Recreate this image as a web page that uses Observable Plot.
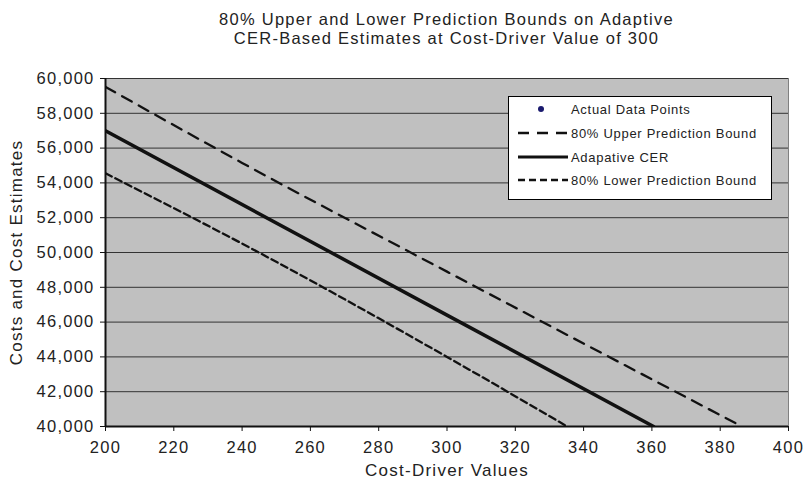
<!DOCTYPE html>
<html>
<head>
<meta charset="utf-8">
<script src="https://cdn.jsdelivr.net/npm/d3@7"></script>
<script src="https://cdn.jsdelivr.net/npm/@observablehq/plot@0.6"></script>
<style>
  body { margin: 0; background: #fff; font-family: "Liberation Sans", Arial, sans-serif; }
  #wrap { position: relative; width: 805px; height: 482px; }
  #title { position: absolute; left: 0; top: 10px; width: 893px; text-align: center; font-size: 16.5px; line-height: 18.5px; letter-spacing: 1.25px; color: #222; }
  #chart { position: absolute; left: 0; top: 60px; }
  #legend { position: absolute; left: 508px; top: 96px; width: 262px; height: 102px; background: #fff; border: 1px solid #000; font-size: 13px; letter-spacing: 0.7px; color: #222; }
  .row { position: absolute; left: 8px; height: 20px; display: flex; align-items: center; }
  .row svg { margin-right: 2px; }
</style>
</head>
<body>
<div id="wrap">
  <div id="title">80% Upper and Lower Prediction Bounds on Adaptive<br>CER-Based Estimates at Cost-Driver Value of 300</div>
  <div id="chart"></div>
  <div id="legend"></div>
</div>
<script>
// Data
const cerX = [200, 300, 360.5];
const cerY = [57000, 46400, 40000];
const upperX = [200, 240, 300, 386.4];
const upperY = [59520, 55150, 48900, 40000];
const lowerX = [200, 244.9, 300, 335.2];
const lowerY = [54550, 50000, 44000, 40000];
const actualX = [];
const actualY = [];
const xTicks = [200, 220, 240, 260, 280, 300, 320, 340, 360, 380, 400];
const yTicks = [40000, 42000, 44000, 46000, 48000, 50000, 52000, 54000, 56000, 58000, 60000];

const legendItems = [
  {label: "Actual Data Points", type: "dot"},
  {label: "80% Upper Prediction Bound", type: "line", dash: "11,8", width: 2.3},
  {label: "Adapative CER", type: "line", dash: null, width: 3},
  {label: "80% Lower Prediction Bound", type: "line", dash: "7,4", width: 2.3}
];

const toRows = (xs, ys) => xs.map((x, i) => ({x, y: ys[i]}));
const cer = toRows(cerX, cerY);
const upper = toRows(upperX, upperY);
const lower = toRows(lowerX, lowerY);
const actual = toRows(actualX, actualY);

const chart = Plot.plot({
  width: 805,
  height: 422,
  marginLeft: 105,
  marginRight: 17,
  marginTop: 18,
  marginBottom: 56,
  style: {fontFamily: "'Liberation Sans', Arial, sans-serif", color: "#222", background: "#fff", letterSpacing: "1.25px"},
  x: {domain: [200, 400]},
  y: {domain: [40000, 60000]},
  marks: [
    Plot.frame({fill: "#c0c0c0", stroke: "#808080", strokeWidth: 1}),
    Plot.gridY(yTicks, {stroke: "#333", strokeOpacity: 1, strokeWidth: 1}),
    Plot.line(upper, {x: "x", y: "y", curve: "monotone-x", stroke: "#111", strokeWidth: 2.3, strokeDasharray: "11,8", clip: true}),
    Plot.line(lower, {x: "x", y: "y", curve: "monotone-x", stroke: "#111", strokeWidth: 2.3, strokeDasharray: "7,4", clip: true}),
    Plot.line(cer, {x: "x", y: "y", stroke: "#111", strokeWidth: 3.5, clip: true}),
    Plot.dot(actual, {x: "x", y: "y", r: 3, fill: "#1a1a6e", stroke: null}),
    Plot.ruleX([200], {stroke: "#111", strokeWidth: 2}),
    Plot.ruleY([40000], {stroke: "#111", strokeWidth: 2}),
    Plot.axisY(yTicks, {tickFormat: d3.format(","), tickSize: 5, tickPadding: 6, fontSize: 16.5, label: null, stroke: "#111"}),
    Plot.axisX(xTicks, {tickSize: 5, tickPadding: 10, fontSize: 16.5, label: null, stroke: "#111"}),
    Plot.text(["Costs and Cost Estimates"], {frameAnchor: "left", textAnchor: "middle", dx: -89, rotate: -90, fontSize: 17, fill: "#222"}),
    Plot.text(["Cost-Driver Values"], {frameAnchor: "bottom", dy: 49, fontSize: 17, fill: "#222"})
  ]
});
document.getElementById("chart").appendChild(chart);

const legend = document.getElementById("legend");
const rowTops = [2, 26, 50, 73];
legendItems.forEach((item, i) => {
  const row = document.createElement("div");
  row.className = "row";
  row.style.top = rowTops[i] + "px";
  const ns = "http://www.w3.org/2000/svg";
  const s = document.createElementNS(ns, "svg");
  s.setAttribute("width", 52);
  s.setAttribute("height", 20);
  if (item.type === "dot") {
    const c = document.createElementNS(ns, "circle");
    c.setAttribute("cx", 24); c.setAttribute("cy", 10); c.setAttribute("r", 3);
    c.setAttribute("fill", "#1a1a6e");
    s.appendChild(c);
  } else {
    const l = document.createElementNS(ns, "line");
    l.setAttribute("x1", 1); l.setAttribute("x2", 51); l.setAttribute("y1", 10); l.setAttribute("y2", 10);
    l.setAttribute("stroke", "#111"); l.setAttribute("stroke-width", item.width);
    if (item.dash) l.setAttribute("stroke-dasharray", item.dash);
    s.appendChild(l);
  }
  row.appendChild(s);
  const t = document.createElement("span");
  t.textContent = item.label;
  row.appendChild(t);
  legend.appendChild(row);
});
</script>
</body>
</html>
